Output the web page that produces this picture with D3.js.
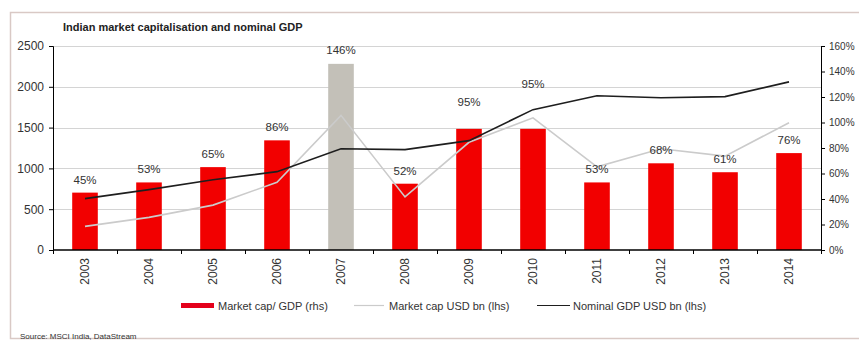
<!DOCTYPE html>
<html>
<head>
<meta charset="utf-8">
<script src="https://cdn.jsdelivr.net/npm/d3@7"></script>
<style>
  body { margin: 0; background: #fff; }
  svg { display: block; font-family: "Liberation Sans", Arial, sans-serif; }
  .grid line { stroke: #d4d4d4; }
  .axis path, .axis line { stroke: #000; }
  .axis text { fill: #333; font-size: 12px; }
</style>
</head>
<body>
<div id="chart"></div>
<script>
const years = ['2003', '2004', '2005', '2006', '2007', '2008', '2009', '2010', '2011', '2012', '2013', '2014'];
// market cap / GDP, percent (rhs)
const capToGdp = [45, 53, 65, 86, 146, 52, 95, 95, 53, 68, 61, 76];
// market cap, USD bn (lhs)
const marketCap = [290, 400, 550, 830, 1650, 650, 1320, 1620, 1020, 1240, 1150, 1560];
// nominal GDP, USD bn (lhs)
const gdp = [630, 740, 860, 960, 1240, 1230, 1340, 1720, 1890, 1865, 1880, 2060];
const leftTicks = [0, 500, 1000, 1500, 2000, 2500];
const rightTicks = [0, 20, 40, 60, 80, 100, 120, 140, 160];

const width = 859;
const height = 341;
const plot = { left: 53, right: 821, top: 46, bottom: 250 };

const svg = d3.select('#chart').append('svg')
    .attr('width', width)
    .attr('height', height);

// outer frame
svg.append('rect')
    .attr('x', 10.5)
    .attr('y', 12.5)
    .attr('width', 870)
    .attr('height', 326)
    .attr('fill', 'none')
    .attr('stroke', '#d9c9c5')
    .attr('stroke-width', 1.5);

svg.append('text')
    .attr('x', 63)
    .attr('y', 31)
    .attr('font-weight', 'bold')
    .attr('font-size', 11)
    .attr('fill', '#222')
    .text('Indian market capitalisation and nominal GDP');

const x = d3.scaleBand()
    .domain(years)
    .range([plot.left, plot.right])
    .paddingInner(0.6)
    .paddingOuter(0.3);

const yLeft = d3.scaleLinear().domain([0, 2500]).range([plot.bottom, plot.top]);
const yRight = d3.scaleLinear().domain([0, 160]).range([plot.bottom, plot.top]);

// gridlines follow the left axis
svg.append('g')
    .attr('class', 'grid')
    .selectAll('line')
    .data(leftTicks.slice(1))
    .enter().append('line')
    .attr('x1', plot.left)
    .attr('x2', plot.right)
    .attr('y1', d => Math.round(yLeft(d)) + 0.5)
    .attr('y2', d => Math.round(yLeft(d)) + 0.5);

// bars (rhs)
svg.append('g')
    .selectAll('rect')
    .data(capToGdp)
    .enter().append('rect')
    .attr('x', (d, i) => x(years[i]))
    .attr('width', x.bandwidth())
    .attr('y', d => yRight(d))
    .attr('height', d => yRight(0) - yRight(d))
    .attr('fill', (d, i) => (years[i] === '2007' ? '#c3c0b8' : '#f20000'));

const cx = (d, i) => x(years[i]) + x.bandwidth() / 2;

const lineLeft = d3.line()
    .x(cx)
    .y(d => yLeft(d));

svg.append('path')
    .datum(marketCap)
    .attr('d', lineLeft)
    .attr('fill', 'none')
    .attr('stroke', '#cbcbcb')
    .attr('stroke-width', 1.6);

svg.append('path')
    .datum(gdp)
    .attr('d', lineLeft)
    .attr('fill', 'none')
    .attr('stroke', '#1e1e1e')
    .attr('stroke-width', 1.6);

// value labels; 2009 and 2010 sit higher to clear the lines
const lift = { 2007: 10, 2009: 23, 2010: 41 };
svg.append('g')
    .selectAll('text')
    .data(capToGdp)
    .enter().append('text')
    .attr('x', cx)
    .attr('y', (d, i) => yRight(d) - (lift[years[i]] || 9))
    .attr('text-anchor', 'middle')
    .attr('font-size', 11.5)
    .attr('fill', '#333')
    .text(d => `${d}%`);

// axes
svg.append('g')
    .attr('class', 'axis')
    .attr('transform', `translate(${plot.left},0)`)
    .call(d3.axisLeft(yLeft).tickValues(leftTicks).tickSize(4).tickSizeOuter(4).tickPadding(5)
        .tickFormat(d3.format('d')));

svg.append('g')
    .attr('class', 'axis')
    .attr('transform', `translate(${plot.right},0)`)
    .call(d3.axisRight(yRight).tickValues(rightTicks).tickSize(4).tickSizeOuter(4).tickPadding(4)
        .tickFormat(d => `${d}%`))
    .selectAll('text')
    .style('font-size', '10px');

const xAxis = svg.append('g')
    .attr('class', 'axis')
    .attr('transform', `translate(0,${plot.bottom})`);

xAxis.append('line')
    .attr('x1', plot.left)
    .attr('x2', plot.right)
    .attr('stroke', '#000')
    .attr('stroke-width', 1.5);

xAxis.selectAll('.tick')
    .data(years.concat(['end']))
    .enter().append('line')
    .attr('x1', (d, i) => Math.round(plot.left + i * x.step()) + 0.5)
    .attr('x2', (d, i) => Math.round(plot.left + i * x.step()) + 0.5)
    .attr('y1', 0)
    .attr('y2', 4);

xAxis.selectAll('text')
    .data(years)
    .enter().append('text')
    .attr('transform', d => `translate(${x(d) + x.bandwidth() / 2 + 4},8)rotate(-90)`)
    .attr('text-anchor', 'end')
    .text(d => d);

// legend
const legend = svg.append('g')
    .attr('font-size', 11)
    .attr('fill', '#333');

legend.append('rect')
    .attr('x', 181).attr('y', 303)
    .attr('width', 33).attr('height', 5)
    .attr('fill', '#e4001b');
legend.append('text').attr('x', 218).attr('y', 310).text('Market cap/ GDP (rhs)');

legend.append('line')
    .attr('x1', 354).attr('x2', 384).attr('y1', 305.5).attr('y2', 305.5)
    .attr('stroke', '#cbcbcb').attr('stroke-width', 1.2);
legend.append('text').attr('x', 389).attr('y', 310).text('Market cap USD bn (lhs)');

legend.append('line')
    .attr('x1', 537).attr('x2', 570).attr('y1', 305.5).attr('y2', 305.5)
    .attr('stroke', '#1e1e1e').attr('stroke-width', 1.2);
legend.append('text').attr('x', 573).attr('y', 310).text('Nominal GDP USD bn (lhs)');

svg.append('text')
    .attr('x', 20)
    .attr('y', 339)
    .attr('font-size', 8)
    .attr('fill', '#333')
    .text('Source: MSCI India, DataStream');
</script>
</body>
</html>
